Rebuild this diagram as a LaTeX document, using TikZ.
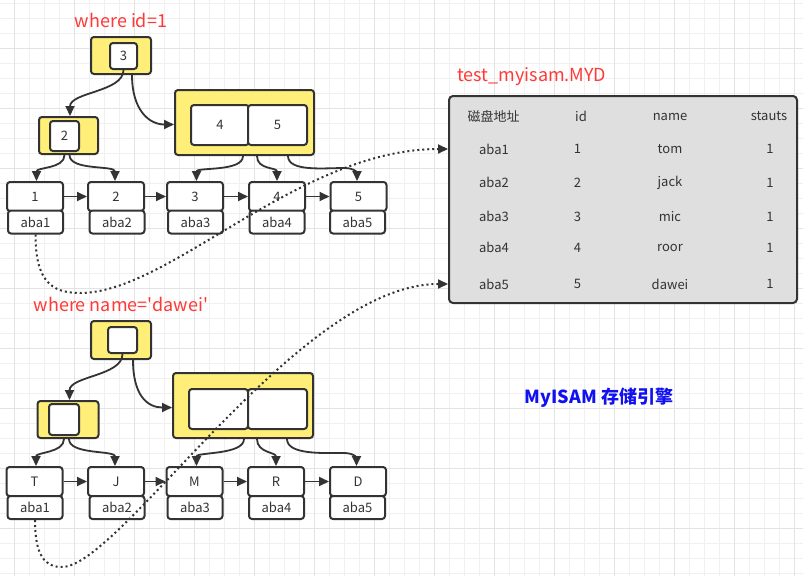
\documentclass[tikz,border=0pt]{standalone}
\usepackage{fontspec}
\setmainfont{Noto Sans CJK SC}
\usetikzlibrary{arrows.meta,calc}
\definecolor{ln}{HTML}{333333}
\definecolor{yel}{HTML}{FFEF78}
\definecolor{tblc}{HTML}{DFDFDF}
\definecolor{redt}{HTML}{FF3838}
\definecolor{bluet}{HTML}{1010F0}
\definecolor{gmin}{HTML}{F0F0F0}
\definecolor{gmaj}{HTML}{E3E3E3}
\begin{document}
\begin{tikzpicture}[x=1pt,y=-1pt,
  box/.style={draw=ln, line width=2pt, rounded corners=3pt, inner sep=0pt,
    font=\fontsize{13}{15}\selectfont, text=ln},
  ybox/.style={box, fill=yel},
  wbox/.style={box, fill=white},
  arr/.style={draw=ln, line width=1.8pt, -{Triangle[length=10pt,width=9pt]}},
  dotarr/.style={draw=ln, line width=2pt, dash pattern=on 2pt off 3pt, -{Triangle[length=10pt,width=9pt]}},
  ttl/.style={text=redt, font=\fontsize{18}{20}\selectfont, inner sep=0pt},
  cell/.style={text=ln, font=\fontsize{13}{15}\selectfont, inner sep=0pt},
  leaft/.style={wbox, minimum width=56pt, minimum height=29pt},
  leafb/.style={wbox, minimum width=55pt, minimum height=23pt}]
\useasboundingbox (0,0) rectangle (803,576);
\fill[white] (0,0) rectangle (803,576);
% grid
\foreach \i in {0,...,54} \draw[gmin, line width=1pt] (\i*15-0.7,0) -- (\i*15-0.7,576);
\foreach \i in {0,...,38} \draw[gmin, line width=1pt] (0,\i*15+3.3) -- (803,\i*15+3.3);
\foreach \i in {0,...,13} \draw[gmaj, line width=1pt] (\i*60+14.3,0) -- (\i*60+14.3,576);
\foreach \i in {0,...,9} \draw[gmaj, line width=1pt] (0,\i*60+48.3) -- (803,\i*60+48.3);

% ---------- top tree ----------
\node[ttl] (t1) at (121,20) {where id=1};
\node[ybox, minimum width=60pt, minimum height=37pt] (r1) at (121,55.5) {};
\node[wbox, minimum width=27pt, minimum height=26pt] (r1i) at (123.5,56) {3};
\node[ybox, minimum width=59pt, minimum height=37pt] (l1) at (68.5,135.5) {};
\node[wbox, minimum width=29pt, minimum height=30pt] (l1i) at (64.5,136) {2};
\node[ybox, minimum width=139pt, minimum height=65pt] (rr1) at (244.5,122.5) {};
\node[wbox, minimum width=58pt, minimum height=40pt] (p4) at (220,125) {4};
\node[wbox, minimum width=59pt, minimum height=40pt] (p5) at (277.5,125) {5};

\node[leaft] (k1) at (35,196.5) {1};
\node[leaft] (k2) at (116,196.5) {2};
\node[leaft] (k3) at (195,196.5) {3};
\node[leaft] (k4) at (277,196.5) {4};
\node[leaft] (k5) at (358.5,196.5) {5};
\node[leafb] (a1) at (35.5,222) {aba1};
\node[leafb] (a2) at (117,222) {aba2};
\node[leafb] (a3) at (195.5,222) {aba3};
\node[leafb] (a4) at (277,222) {aba4};
\node[leafb] (a5) at (357.5,222) {aba5};

\draw[arr] (r1i.south) .. controls +(0,22) and +(0,-24) .. ([xshift=1.5pt]l1.north);
\draw[arr] ([xshift=11pt]r1.south) .. controls +(0,35) and +(-25,0) .. ([yshift=-2pt]rr1.west);
\draw[arr] ([xshift=-4pt]l1.south) .. controls +(0,14) and +(0,-14) .. ([xshift=1.5pt]k1.north);
\draw[arr] ([xshift=1pt]l1.south) .. controls +(0,16) and +(0,-16) .. ([xshift=-1pt]k2.north);
\draw[arr] ([xshift=-1.5pt]rr1.south) .. controls +(0,16) and +(0,-14) .. ([xshift=1.5pt]k3.north);
\draw[arr] ([xshift=12.5pt]rr1.south) .. controls +(0,14) and +(0,-14) .. (k4.north);
\draw[arr] ([xshift=43.5pt]rr1.south) .. controls +(0,16) and +(-20,0) .. ([xshift=-14pt,yshift=13pt]k5.north)
  .. controls +(10,0) and +(0,-8) .. ([xshift=-1.5pt]k5.north);
\draw[arr] (k1) -- (k2);
\draw[arr] (k2) -- (k3);
\draw[arr] (k3) -- (k4);
\draw[arr] (k4) -- (k5);

% ---------- bottom tree ----------
\node[ttl] (t2) at (121,304) {where name=\textquotesingle dawei\textquotesingle};
\node[ybox, minimum width=60pt, minimum height=38pt] (r2) at (121,340) {};
\node[wbox, minimum width=29pt, minimum height=26pt] (r2i) at (122.5,340) {};
\node[ybox, minimum width=61pt, minimum height=37pt] (l2) at (68,419.5) {};
\node[wbox, minimum width=30pt, minimum height=31pt] (l2i) at (64,419.5) {};
\node[ybox, minimum width=140pt, minimum height=65pt] (rr2) at (243,405.5) {};
\node[wbox, minimum width=59pt, minimum height=40pt] (q1) at (218.5,409) {};
\node[wbox, minimum width=59pt, minimum height=40pt] (q2) at (277.5,409) {};

\node[leaft] (m1) at (34.5,481.5) {T};
\node[leaft] (m2) at (116,481.5) {J};
\node[leaft] (m3) at (194.5,481.5) {M};
\node[leaft] (m4) at (276,481.5) {R};
\node[leaft] (m5) at (358,481.5) {D};
\node[leafb] (b1) at (35,507.5) {aba1};
\node[leafb] (b2) at (117,507.5) {aba2};
\node[leafb] (b3) at (195,507.5) {aba3};
\node[leafb] (b4) at (276.5,507.5) {aba4};
\node[leafb] (b5) at (357.5,507.5) {aba5};

\draw[arr] (r2i.south) .. controls +(0,22) and +(0,-24) .. ([xshift=1.5pt]l2.north);
\draw[arr] ([xshift=12pt]r2.south) .. controls +(0,35) and +(-25,0) .. ([yshift=-2pt]rr2.west);
\draw[arr] ([xshift=-4pt]l2.south) .. controls +(0,14) and +(0,-14) .. ([xshift=1.5pt]m1.north);
\draw[arr] ([xshift=1pt]l2.south) .. controls +(0,16) and +(0,-16) .. ([xshift=-1pt]m2.north);
\draw[arr] ([xshift=1pt]rr2.south) .. controls +(0,16) and +(0,-14) .. ([xshift=2pt]m3.north);
\draw[arr] ([xshift=14pt]rr2.south) .. controls +(0,14) and +(0,-14) .. (m4.north);
\draw[arr] ([xshift=44pt]rr2.south) .. controls +(0,16) and +(-20,0) .. ([xshift=-14pt,yshift=13pt]m5.north)
  .. controls +(10,0) and +(0,-8) .. ([xshift=-1.5pt]m5.north);
\draw[arr] (m1) -- (m2);
\draw[arr] (m2) -- (m3);
\draw[arr] (m3) -- (m4);
\draw[arr] (m4) -- (m5);

% ---------- table ----------
\node[ttl, anchor=west] (t3) at (457,77) {test\_myisam.MYD};
\node[draw=ln, line width=2pt, rounded corners=4pt, fill=tblc, minimum width=348pt, minimum height=207pt, inner sep=0pt] (myd) at (623,199.5) {};
\node[cell] (h1) at (493.5,116.5) {磁盘地址};
\node[cell] (h2) at (581,116.5) {id};
\node[cell] (h3) at (670,116.5) {name};
\node[cell] (h4) at (769,116.5) {stauts};
\foreach \n/\y/\nm in {1/149/tom, 2/182.5/jack, 3/216.5/mic, 4/247.5/roor, 5/284/dawei} {
  \node[cell] (ta\n) at (494,\y) {aba\n};
  \node[cell] (ti\n) at (577.5,\y) {\n};
  \node[cell] (tn\n) at (670,\y) {\nm};
  \node[cell] (ts\n) at (770,\y) {1};
}

\node[text=bluet, font=\fontsize{18}{20}\selectfont\bfseries, inner sep=0pt] (eng) at (599,398) {MyISAM 存储引擎};

% ---------- dotted links ----------
\coordinate (lo1) at (80,293);
\coordinate (lo2) at (62,567);
\draw[dotarr] (a1.south) .. controls +(0,45) and +(-30,0) .. (lo1)
  .. controls +(90,0) and +(-150,0) .. (myd.west |- ta1);
\draw[dotarr] (b1.south) .. controls +(0,36) and +(-17,0) .. (lo2)
  .. controls +(58,0) and +(-150,0) .. (myd.west |- ta5);
\end{tikzpicture}
\end{document}
